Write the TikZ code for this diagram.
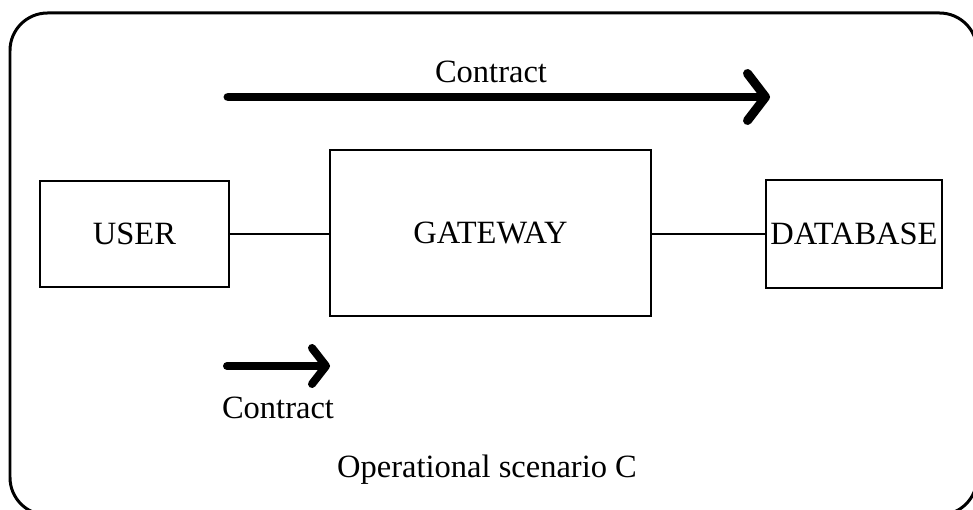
\documentclass[tikz,border=0pt]{standalone}
\usepackage{fontspec}
\setmainfont{Liberation Serif}
\usepackage{tikz}
\usetikzlibrary{positioning,arrows.meta}

\tikzset{
  unit/.style={draw,line width=0.04cm,inner sep=0pt,font=\fontsize{18.5}{22}\selectfont},
  contract/.style={line width=#1,line cap=round,-{Straight Barb[round]}},
  lbl/.style={inner sep=0pt,font=\fontsize{18.5}{22}\selectfont}
}

\begin{document}
\begin{tikzpicture}[x=0.02cm,y=-0.02cm]
\useasboundingbox (0,0) rectangle (973,510);
\begin{scope}
\clip (0,0) rectangle (973,510);
\draw[line width=0.06cm,rounded corners=0.75cm] (10,13) rectangle (977,515);
\end{scope}

\node[unit,minimum width=3.78cm,minimum height=2.14cm] (user) at (134.5,234) {USER};
\node[unit,minimum width=6.42cm,minimum height=3.34cm] (gw) at (490.5,233) {GATEWAY};
\node[unit,minimum width=3.52cm,minimum height=2.16cm] (db) at (854,234) {DATABASE};
\draw[line width=0.03cm] (user.east) -- (user.east -| gw.west);
\draw[line width=0.03cm] (gw.east |- db.west) -- (db.west);

% contract over the whole chain
\coordinate (topA) at (228,97);
\coordinate (topB) at (770,97);
\draw[contract=0.18cm,-{Straight Barb[round,length=0.36cm,width=0.94cm]}] (topA) -- (topB);
\node[lbl] (topC) at (491,72) {Contract};

% contract user to gateway
\coordinate (botA) at (227,366);
\coordinate (botB) at (330,366);
\draw[contract=0.16cm,-{Straight Barb[round,length=0.28cm,width=0.72cm]}] (botA) -- (botB);
\node[lbl] (botC) at (278,408) {Contract};

\node[lbl] (scen) at (487,470) {Operational scenario C};
\end{tikzpicture}
\end{document}
